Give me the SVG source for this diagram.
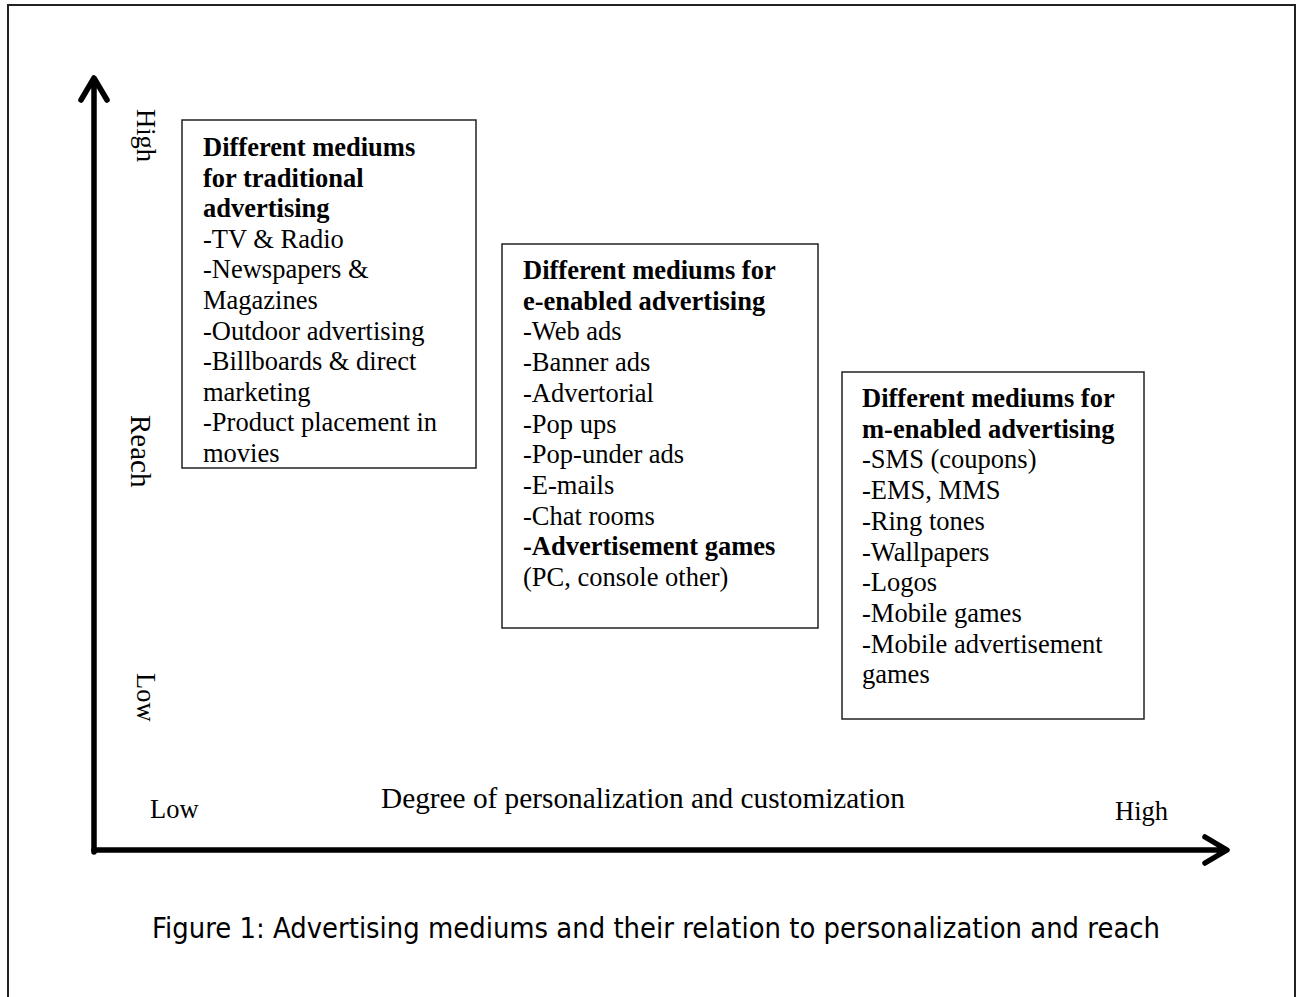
<svg xmlns="http://www.w3.org/2000/svg" width="1297" height="997" viewBox="0 0 1297 997">
<style>
.t{font-family:"Liberation Serif","Times New Roman",serif;font-size:26.5px;fill:#000}
.b{font-weight:bold}
.box{fill:#fff;stroke:#222;stroke-width:1.5}
.ax{fill:none;stroke:#000;stroke-width:5.5;stroke-linecap:round;stroke-linejoin:round}
.cap{font-family:"DejaVu Sans",Tahoma,Verdana,sans-serif;font-size:27.5px;fill:#000}
</style>
<rect width="1297" height="997" fill="#fff"/>
<rect x="8" y="5" width="1287" height="1000" fill="none" stroke="#222" stroke-width="2"/>
<g id="connectors">
<path class="ax" d="M94 852 V80 M81 100 L94 78 L107 100"/>
<path class="ax" d="M94 850 H1225 M1205 837 L1227 850 L1205 863"/>
</g>
<g id="yaxis-labels">
<text class="t" transform="translate(137,109) rotate(90)">High</text>
<text class="t" style="font-size:29px" transform="translate(131,415) rotate(90)">Reach</text>
<text class="t" transform="translate(137,673) rotate(90)">Low</text>
</g>
<g id="xaxis-labels">
<text class="t" x="150" y="818">Low</text>
<text class="t" style="font-size:29.3px" x="381" y="808">Degree of personalization and customization</text>
<text class="t" x="1115" y="820">High</text>
</g>
<g id="node-traditional">
<rect class="box" x="182" y="120" width="294" height="348"/>
<text class="t" x="203"><tspan class="b" x="203" y="156">Different mediums</tspan><tspan class="b" x="203" dy="30.6">for traditional</tspan><tspan class="b" x="203" dy="30.6">advertising</tspan><tspan x="203" dy="30.6">-TV &amp; Radio</tspan><tspan x="203" dy="30.6">-Newspapers &amp;</tspan><tspan x="203" dy="30.6">Magazines</tspan><tspan x="203" dy="30.6">-Outdoor advertising</tspan><tspan x="203" dy="30.6">-Billboards &amp; direct</tspan><tspan x="203" dy="30.6">marketing</tspan><tspan x="203" dy="30.6">-Product placement in</tspan><tspan x="203" dy="30.6">movies</tspan></text>
</g>
<g id="node-e-enabled">
<rect class="box" x="502" y="244" width="316" height="384"/>
<text class="t" x="523"><tspan class="b" x="523" y="279">Different mediums for</tspan><tspan class="b" x="523" dy="30.7">e-enabled advertising</tspan><tspan x="523" dy="30.7">-Web ads</tspan><tspan x="523" dy="30.7">-Banner ads</tspan><tspan x="523" dy="30.7">-Advertorial</tspan><tspan x="523" dy="30.7">-Pop ups</tspan><tspan x="523" dy="30.7">-Pop-under ads</tspan><tspan x="523" dy="30.7">-E-mails</tspan><tspan x="523" dy="30.7">-Chat rooms</tspan><tspan class="b" x="523" dy="30.7">-Advertisement games</tspan><tspan x="523" dy="30.7">(PC, console other)</tspan></text>
</g>
<g id="node-m-enabled">
<rect class="box" x="842" y="372" width="302" height="347"/>
<text class="t" x="862"><tspan class="b" x="862" y="407">Different mediums for</tspan><tspan class="b" x="862" dy="30.7">m-enabled advertising</tspan><tspan x="862" dy="30.7">-SMS (coupons)</tspan><tspan x="862" dy="30.7">-EMS, MMS</tspan><tspan x="862" dy="30.7">-Ring tones</tspan><tspan x="862" dy="30.7">-Wallpapers</tspan><tspan x="862" dy="30.7">-Logos</tspan><tspan x="862" dy="30.7">-Mobile games</tspan><tspan x="862" dy="30.7">-Mobile advertisement</tspan><tspan x="862" dy="30.7">games</tspan></text>
</g>
<g id="caption">
<text class="cap" x="152" y="938" textLength="1008" lengthAdjust="spacingAndGlyphs">Figure 1: Advertising mediums and their relation to personalization and reach</text>
</g>
</svg>
